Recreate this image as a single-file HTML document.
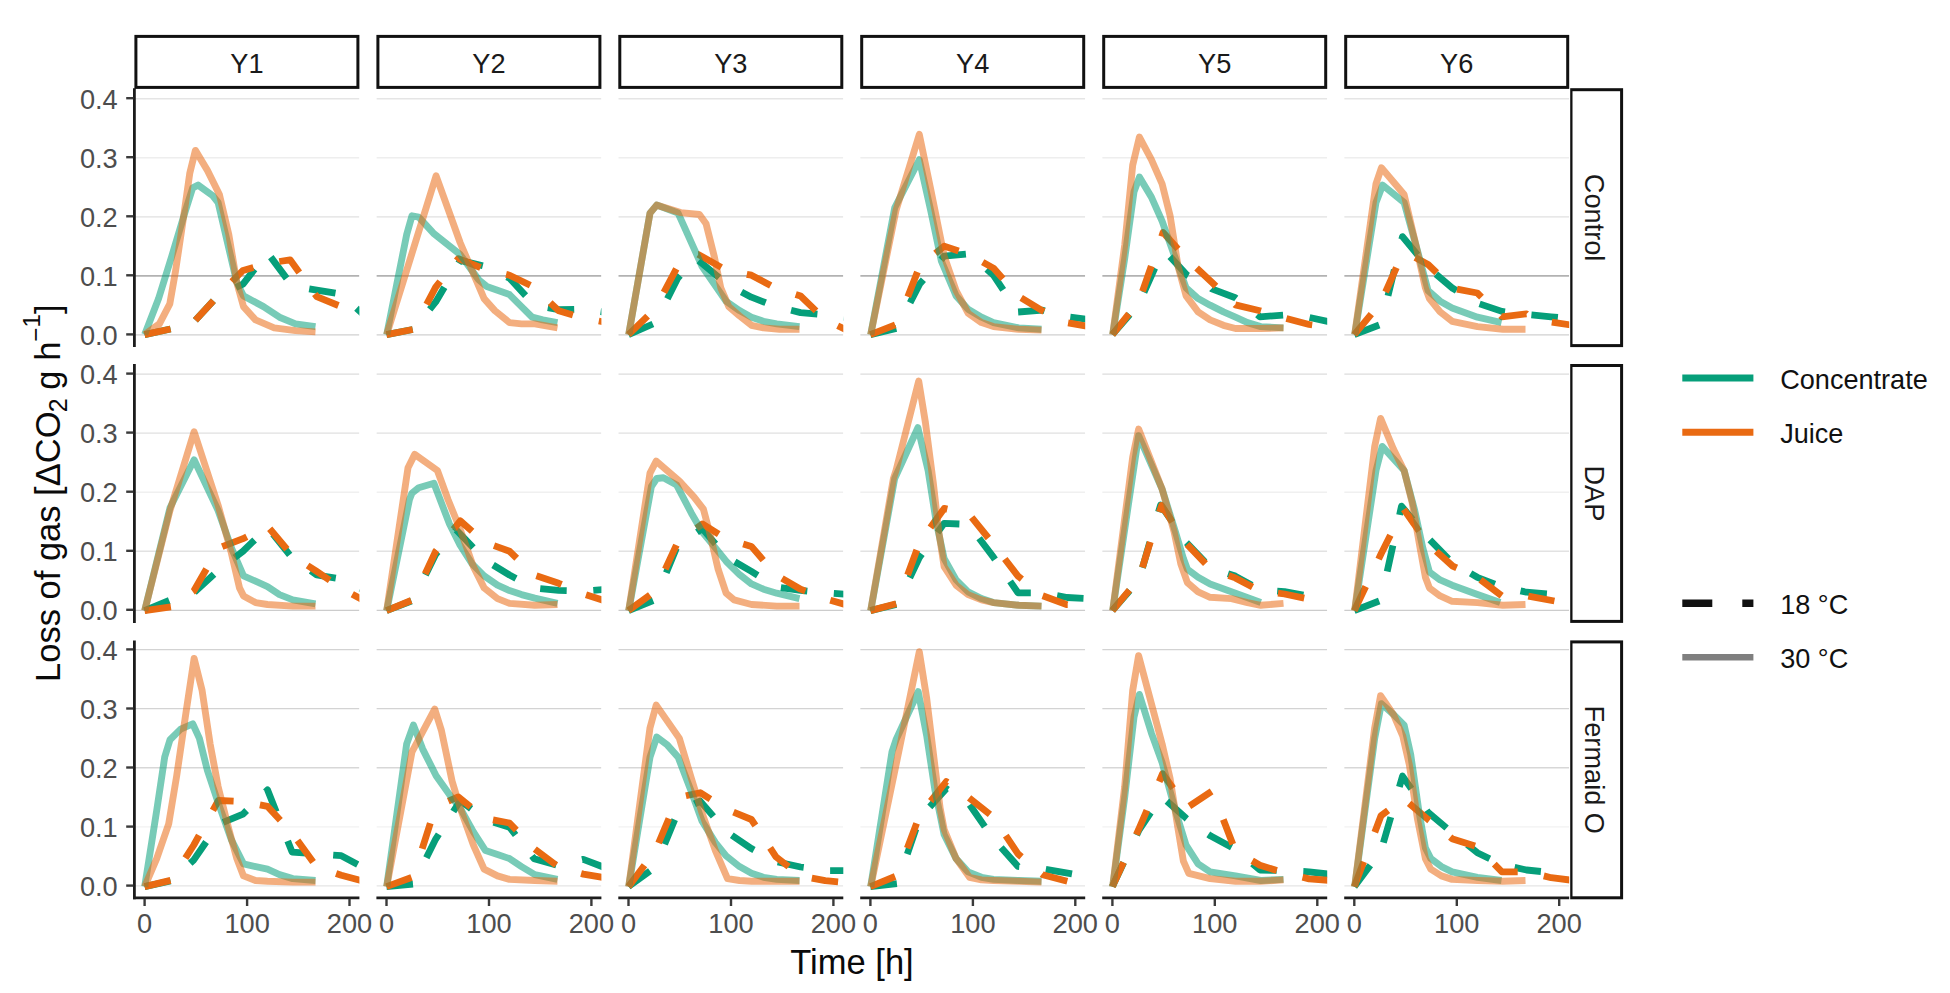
<!DOCTYPE html>
<html lang="en"><head><meta charset="utf-8"><title>Loss of gas over time by yeast strain and nutrient</title><style>html,body{margin:0;padding:0;background:#fff;}body{width:1950px;height:993px;overflow:hidden;}svg{display:block;}</style></head>
<body>
<svg width="1950" height="993" viewBox="0 0 1950 993" font-family='"Liberation Sans", sans-serif'>
<rect width="1950" height="993" fill="#fff"/>
<defs>
<clipPath id="c00"><rect x="134.4" y="88.2" width="225" height="258.9"/></clipPath>
<clipPath id="c01"><rect x="134.4" y="364" width="225" height="258.9"/></clipPath>
<clipPath id="c02"><rect x="134.4" y="640.4" width="225" height="258.9"/></clipPath>
<clipPath id="c10"><rect x="376.4" y="88.2" width="225" height="258.9"/></clipPath>
<clipPath id="c11"><rect x="376.4" y="364" width="225" height="258.9"/></clipPath>
<clipPath id="c12"><rect x="376.4" y="640.4" width="225" height="258.9"/></clipPath>
<clipPath id="c20"><rect x="618.3" y="88.2" width="225" height="258.9"/></clipPath>
<clipPath id="c21"><rect x="618.3" y="364" width="225" height="258.9"/></clipPath>
<clipPath id="c22"><rect x="618.3" y="640.4" width="225" height="258.9"/></clipPath>
<clipPath id="c30"><rect x="860.2" y="88.2" width="225" height="258.9"/></clipPath>
<clipPath id="c31"><rect x="860.2" y="364" width="225" height="258.9"/></clipPath>
<clipPath id="c32"><rect x="860.2" y="640.4" width="225" height="258.9"/></clipPath>
<clipPath id="c40"><rect x="1102.2" y="88.2" width="225" height="258.9"/></clipPath>
<clipPath id="c41"><rect x="1102.2" y="364" width="225" height="258.9"/></clipPath>
<clipPath id="c42"><rect x="1102.2" y="640.4" width="225" height="258.9"/></clipPath>
<clipPath id="c50"><rect x="1344.2" y="88.2" width="225" height="258.9"/></clipPath>
<clipPath id="c51"><rect x="1344.2" y="364" width="225" height="258.9"/></clipPath>
<clipPath id="c52"><rect x="1344.2" y="640.4" width="225" height="258.9"/></clipPath>
<clipPath id="cs"><rect x="1570.2" y="80" width="60" height="830"/></clipPath>
</defs>
<g clip-path="url(#c00)" fill="none"><line x1="134.4" x2="359.4" y1="334.9" y2="334.9" stroke="#d0d0d0" stroke-width="1.35"/><line x1="134.4" x2="359.4" y1="275.8" y2="275.8" stroke="#b2b2b2" stroke-width="1.7"/><line x1="134.4" x2="359.4" y1="216.8" y2="216.8" stroke="#e0e0e0" stroke-width="1.35"/><line x1="134.4" x2="359.4" y1="157.7" y2="157.7" stroke="#eeeeee" stroke-width="1.35"/><line x1="134.4" x2="359.4" y1="98.7" y2="98.7" stroke="#e5e5e5" stroke-width="1.35"/><path d="M144.6,334.6 L170.6,329 M195.4,320.3 L213.4,300.8 M235.9,287.3 L243,284.1 L254.6,269.2 M270.8,257.1 L286.6,278.4 M309.2,288.8 L316.7,290.1 L335.5,293.2 M356.5,308.2 L365.9,316.8" stroke="#069f7a" stroke-width="6.8" stroke-linejoin="round"/><path d="M144.6,334.6 L170.6,329 M195.4,320.3 L213.4,300.8 M231.9,281.6 L243,270.4 L253.4,267.4 M279.3,261.5 L290.1,259.8 L299.3,272.4 M314.8,294 L316.7,296.6 L338.4,305.5 M363.8,313.2 L365.9,313.8" stroke="#e96a12" stroke-width="6.8" stroke-linejoin="round"/><polyline points="144.7,334.6 158.6,298.6 171.9,255.8 183.9,215.8 192.7,187.8 198.1,185.1 212.8,195.8 218.1,202.5 236.8,282.5 243.5,295.9 263.5,306.6 279.5,317.2 295.5,323.9 315.5,326.6" stroke="#069f7a" stroke-opacity=".54" stroke-width="6.9" stroke-linejoin="round"/><polyline points="144.7,334.6 159.4,323.9 169.8,303.9 175.4,271.9 182.6,223.8 189.8,173.1 195.4,150.4 207.4,170.4 219.4,194.5 228.8,234.5 236.8,282.5 243.5,306.6 255.5,319.9 274.2,327.9 295.5,330.6 315.5,331.9" stroke="#e96a12" stroke-opacity=".54" stroke-width="6.9" stroke-linejoin="round"/></g>
<g clip-path="url(#c10)" fill="none"><line x1="376.4" x2="601.4" y1="334.9" y2="334.9" stroke="#d0d0d0" stroke-width="1.35"/><line x1="376.4" x2="601.4" y1="275.8" y2="275.8" stroke="#b2b2b2" stroke-width="1.7"/><line x1="376.4" x2="601.4" y1="216.8" y2="216.8" stroke="#e0e0e0" stroke-width="1.35"/><line x1="376.4" x2="601.4" y1="157.7" y2="157.7" stroke="#eeeeee" stroke-width="1.35"/><line x1="376.4" x2="601.4" y1="98.7" y2="98.7" stroke="#e5e5e5" stroke-width="1.35"/><path d="M386.5,334.6 L412.7,329.5 M429.7,309.3 L435.7,301.9 L444.4,287.2 M458.5,263.3 L460.3,260.4 L482.8,265.8 M506.9,276.9 L509.5,278.2 L525.6,295.6 M547.8,307.6 L558.7,309.7 L574.2,309.3 M600.6,311.6 L607.8,312.6" stroke="#069f7a" stroke-width="6.8" stroke-linejoin="round"/><path d="M386.5,334.6 L412.7,329.5 M426.6,304.3 L435.7,287.1 L440.1,281.5 M456.6,260.7 L458.3,258.6 L480.5,267.5 M506.1,274.4 L509.5,275.2 L530.3,285.3 M550.2,302.7 L558.7,310.8 L572.9,315 M598.8,321 L607.8,322.7" stroke="#e96a12" stroke-width="6.8" stroke-linejoin="round"/><polyline points="386.7,334.6 406.7,234.5 412,215.8 418.7,217.1 433.4,233.2 460.1,254.5 478.8,279.9 486.8,286.5 509.5,294.6 521.5,306.6 532.2,317.2 542.8,319.9 557.5,322.6" stroke="#069f7a" stroke-opacity=".54" stroke-width="6.9" stroke-linejoin="round"/><polyline points="386.7,334.6 436.1,175.8 460.1,242.5 484.1,298.6 494.8,310.6 509.5,322.6 521.5,323.9 534.8,323.9 557.5,327.9" stroke="#e96a12" stroke-opacity=".54" stroke-width="6.9" stroke-linejoin="round"/></g>
<g clip-path="url(#c20)" fill="none"><line x1="618.3" x2="843.3" y1="334.9" y2="334.9" stroke="#d0d0d0" stroke-width="1.35"/><line x1="618.3" x2="843.3" y1="275.8" y2="275.8" stroke="#b2b2b2" stroke-width="1.7"/><line x1="618.3" x2="843.3" y1="216.8" y2="216.8" stroke="#e0e0e0" stroke-width="1.35"/><line x1="618.3" x2="843.3" y1="157.7" y2="157.7" stroke="#eeeeee" stroke-width="1.35"/><line x1="618.3" x2="843.3" y1="98.7" y2="98.7" stroke="#e5e5e5" stroke-width="1.35"/><path d="M628.5,334.6 L652.9,324 M667.4,298.7 L677.7,278.2 L680.2,275.5 M698.7,260.7 L719.1,277.7 M741.5,291.9 L751.4,297.2 L765.7,302.7 M791.1,310.3 L800.6,312.6 L817.4,314.2 M843.8,317.2 L849.8,318" stroke="#069f7a" stroke-width="6.8" stroke-linejoin="round"/><path d="M628.5,334.6 L647.6,316.1 M663.9,292.4 L676.3,268.9 M698.1,254.4 L698.2,254.4 L721.3,267.4 M746.8,274.3 L751.4,275.2 L770.7,285.5 M795.7,294.4 L800.6,296 L816,310.9 M837.7,325.8 L849.8,331.6" stroke="#e96a12" stroke-width="6.8" stroke-linejoin="round"/><polyline points="628.7,334.6 650,213.1 656.7,205.1 678.1,213.1 702.1,266.5 726.1,301.2 739.5,310.6 751.5,317.2 763.5,321.3 776.8,323.9 799.5,326.6" stroke="#069f7a" stroke-opacity=".54" stroke-width="6.9" stroke-linejoin="round"/><polyline points="628.7,334.6 650,213.1 656.7,205.1 680.7,212.6 699.4,214.5 706.1,223.8 714.1,255.8 720.8,287.9 728.8,306.6 739.5,315.9 751.5,325.3 763.5,327.9 779.5,329.3 799.5,329.3" stroke="#e96a12" stroke-opacity=".54" stroke-width="6.9" stroke-linejoin="round"/></g>
<g clip-path="url(#c30)" fill="none"><line x1="860.2" x2="1085.2" y1="334.9" y2="334.9" stroke="#d0d0d0" stroke-width="1.35"/><line x1="860.2" x2="1085.2" y1="275.8" y2="275.8" stroke="#b2b2b2" stroke-width="1.7"/><line x1="860.2" x2="1085.2" y1="216.8" y2="216.8" stroke="#e0e0e0" stroke-width="1.35"/><line x1="860.2" x2="1085.2" y1="157.7" y2="157.7" stroke="#eeeeee" stroke-width="1.35"/><line x1="860.2" x2="1085.2" y1="98.7" y2="98.7" stroke="#e5e5e5" stroke-width="1.35"/><path d="M870.4,334.6 L896.3,328.4 M910.1,302.7 L919.6,284.1 L923.4,279.8 M941,259.8 L944.2,256.2 L965.9,254.1 M986.7,269.3 L993.4,275.2 L1003.2,289.9 M1018.1,312 L1042.6,310.2 L1044.6,310.8 M1070.3,317.2 L1091.7,319.8" stroke="#069f7a" stroke-width="6.8" stroke-linejoin="round"/><path d="M870.4,334.6 L895.2,324.9 M907.8,296.8 L917.4,272 M935.4,253.3 L944.2,246.1 L958.6,251 M982.7,262.1 L993.4,268.1 L1002.9,278.8 M1021.2,297.9 L1042.6,310.8 L1044,311.5 M1068.1,322.9 L1091.7,326.9" stroke="#e96a12" stroke-width="6.8" stroke-linejoin="round"/><polyline points="870.7,334.6 894.7,207.8 919.3,159.7 930.7,210.5 941.4,261.2 956.1,295.9 968.1,309.2 981.5,317.2 993.5,322.6 1018.8,327.9 1041.5,329.3" stroke="#069f7a" stroke-opacity=".54" stroke-width="6.9" stroke-linejoin="round"/><polyline points="870.7,334.6 896,210.5 919.3,134.4 930.7,189.1 944.1,255.8 956.1,290.6 968.1,313.2 981.5,322.6 993.5,326.6 1018.8,329.3 1041.5,330.1" stroke="#e96a12" stroke-opacity=".54" stroke-width="6.9" stroke-linejoin="round"/></g>
<g clip-path="url(#c40)" fill="none"><line x1="1102.2" x2="1327.2" y1="334.9" y2="334.9" stroke="#d0d0d0" stroke-width="1.35"/><line x1="1102.2" x2="1327.2" y1="275.8" y2="275.8" stroke="#b2b2b2" stroke-width="1.7"/><line x1="1102.2" x2="1327.2" y1="216.8" y2="216.8" stroke="#e0e0e0" stroke-width="1.35"/><line x1="1102.2" x2="1327.2" y1="157.7" y2="157.7" stroke="#eeeeee" stroke-width="1.35"/><line x1="1102.2" x2="1327.2" y1="98.7" y2="98.7" stroke="#e5e5e5" stroke-width="1.35"/><path d="M1112.4,334.6 L1129.8,314.5 M1144,292.4 L1154.8,268 M1170,256.6 L1187.2,275.2 L1188.3,275.8 M1211.6,288.7 L1211.8,288.9 L1235.3,297.8 L1236.2,298.5 M1257.3,314.7 L1259.9,316.8 L1283.1,315.1 M1309.6,317.5 L1333.7,322.7" stroke="#069f7a" stroke-width="6.8" stroke-linejoin="round"/><path d="M1112.4,334.6 L1128.9,313.8 M1142.5,291.3 L1151.3,266.2 M1161.7,236.5 L1163.1,232.4 L1178,249 M1196.6,268 L1211.8,282.3 L1215.9,286.3 M1235.1,304.7 L1235.3,304.9 L1259.9,310.8 L1260.9,311.1 M1286.4,318.5 L1309.1,324.5 L1312.2,324.9" stroke="#e96a12" stroke-width="6.8" stroke-linejoin="round"/><polyline points="1112.7,334.6 1124.7,258.5 1134,191.8 1139.4,177.1 1151.4,197.1 1162.1,221.1 1175.4,258.5 1186.1,287.9 1198.1,298.6 1210.1,305.2 1223.5,311.9 1235.5,317.2 1247.5,322.6 1260.8,326.6 1283.5,327.9" stroke="#069f7a" stroke-opacity=".54" stroke-width="6.9" stroke-linejoin="round"/><polyline points="1112.7,334.6 1124.7,245.2 1132.7,165.1 1139.4,137.1 1151.4,159.7 1162.1,183.8 1170.1,215.8 1178.1,266.5 1186.1,295.9 1198.1,311.9 1210.1,319.9 1223.5,325.3 1235.5,328.5 1260.8,328.5 1283.5,327.9" stroke="#e96a12" stroke-opacity=".54" stroke-width="6.9" stroke-linejoin="round"/></g>
<g clip-path="url(#c50)" fill="none"><line x1="1344.2" x2="1569.2" y1="334.9" y2="334.9" stroke="#d0d0d0" stroke-width="1.35"/><line x1="1344.2" x2="1569.2" y1="275.8" y2="275.8" stroke="#b2b2b2" stroke-width="1.7"/><line x1="1344.2" x2="1569.2" y1="216.8" y2="216.8" stroke="#e0e0e0" stroke-width="1.35"/><line x1="1344.2" x2="1569.2" y1="157.7" y2="157.7" stroke="#eeeeee" stroke-width="1.35"/><line x1="1344.2" x2="1569.2" y1="98.7" y2="98.7" stroke="#e5e5e5" stroke-width="1.35"/><path d="M1354.3,334.6 L1379.2,325 M1388,295.7 L1394.3,269.9 M1401.8,239.4 L1402.5,236.6 L1417.6,254.8 M1435.9,274.1 L1452.7,288.3 L1456.6,290.6 M1479.6,303.9 L1501.9,311.4 L1505,311.8 M1531.4,314.9 L1551.1,316.8 L1557.9,317.4" stroke="#069f7a" stroke-width="6.8" stroke-linejoin="round"/><path d="M1354.3,334.6 L1371.3,314.1 M1385.6,292 L1396.4,267.6 M1415.2,257.6 L1428.1,264.5 L1436.7,272.8 M1457,289.1 L1477.3,293 L1481.5,297.1 M1500.7,315.6 L1501.9,316.8 L1526.5,313.8 L1526.6,313.9 M1551.8,322.2 L1575.6,325.7" stroke="#e96a12" stroke-width="6.8" stroke-linejoin="round"/><polyline points="1354.7,334.6 1376,202.5 1382.7,185.1 1404.1,202.5 1417.4,250.5 1428.1,290.6 1440.1,301.2 1452.1,307.9 1477.5,317.2 1489.5,319.9 1501.5,322.6" stroke="#069f7a" stroke-opacity=".54" stroke-width="6.9" stroke-linejoin="round"/><polyline points="1354.7,334.6 1376,183.8 1381.4,167.8 1404.1,194.5 1414.7,239.8 1425.4,287.9 1429.4,298.6 1440.1,311.9 1452.1,321.3 1477.5,326.6 1502.8,329.3 1525.5,329.3" stroke="#e96a12" stroke-opacity=".54" stroke-width="6.9" stroke-linejoin="round"/></g>
<g clip-path="url(#c01)" fill="none"><line x1="134.4" x2="359.4" y1="610.3" y2="610.3" stroke="#cccccc" stroke-width="1.35"/><line x1="134.4" x2="359.4" y1="551.2" y2="551.2" stroke="#e2e2e2" stroke-width="1.35"/><line x1="134.4" x2="359.4" y1="492.2" y2="492.2" stroke="#f0f0f0" stroke-width="1.35"/><line x1="134.4" x2="359.4" y1="433.1" y2="433.1" stroke="#e0e0e0" stroke-width="1.35"/><line x1="134.4" x2="359.4" y1="374.1" y2="374.1" stroke="#dcdcdc" stroke-width="1.35"/><path d="M144.6,610.6 L169.2,600.5 M194.4,592.2 L214,574.2 M234.7,557.6 L243,551.2 L254.6,540 M273,534.1 L289.7,554.8 M310.8,570.8 L316.7,575 L335.8,578.2 M360.2,588.3 L365.9,591" stroke="#069f7a" stroke-width="6.8" stroke-linejoin="round"/><path d="M144.6,610.6 L170.9,606.8 M192.8,591.7 L193.8,591 L206.4,569 M222.2,546.7 L243,538.7 L246.8,536.8 M269.7,528.8 L286.9,549.2 M307.6,565.5 L316.7,571.4 L329.7,580.2 M352.3,594.2 L365.9,601.7" stroke="#e96a12" stroke-width="6.8" stroke-linejoin="round"/><polyline points="144.7,610.6 170,507.8 194.1,459.8 218.1,510.5 231.4,547.9 243.5,575.9 255.5,581.2 267.5,586.6 279.5,594.6 292.8,599.9 315.5,603.9" stroke="#069f7a" stroke-opacity=".54" stroke-width="6.9" stroke-linejoin="round"/><polyline points="144.7,610.6 170,510.5 194.1,431.7 218.1,505.2 231.4,553.2 239.5,587.9 243.5,595.9 255.5,602.6 267.5,604.5 292.8,606.1 315.5,606.1" stroke="#e96a12" stroke-opacity=".54" stroke-width="6.9" stroke-linejoin="round"/></g>
<g clip-path="url(#c11)" fill="none"><line x1="376.4" x2="601.4" y1="610.3" y2="610.3" stroke="#cccccc" stroke-width="1.35"/><line x1="376.4" x2="601.4" y1="551.2" y2="551.2" stroke="#e2e2e2" stroke-width="1.35"/><line x1="376.4" x2="601.4" y1="492.2" y2="492.2" stroke="#f0f0f0" stroke-width="1.35"/><line x1="376.4" x2="601.4" y1="433.1" y2="433.1" stroke="#e0e0e0" stroke-width="1.35"/><line x1="376.4" x2="601.4" y1="374.1" y2="374.1" stroke="#dcdcdc" stroke-width="1.35"/><path d="M386.5,610.6 L411.4,601 M425.5,575.1 L435.7,554.2 L437.8,551.7 M455,531.3 L456.2,529.8 L473.2,547.7 M493.1,565 L509.5,575 L516,578.4 M540.2,588.6 L558.7,590.4 L566.7,590.6 M593.3,590.3 L607.8,589.2" stroke="#069f7a" stroke-width="6.8" stroke-linejoin="round"/><path d="M386.5,610.6 L411.2,600.5 M425.1,574 L435.7,551.2 L436.6,550.1 M453.4,529.4 L460.3,520.9 L472.1,531.2 M494,545.6 L509.5,551.2 L516.7,558.2 M536.4,575.8 L558.7,583.3 L561.5,584.5 M586,594.8 L607.8,601.7" stroke="#e96a12" stroke-width="6.8" stroke-linejoin="round"/><polyline points="386.7,610.6 409.4,499.8 412,493.1 418.7,487.8 433.9,483.3 449.4,523.8 460.1,545.2 472.1,563.9 484.1,575.9 497.5,585.2 509.5,590.6 521.5,594.6 534.8,598.1 557.5,603.4" stroke="#069f7a" stroke-opacity=".54" stroke-width="6.9" stroke-linejoin="round"/><polyline points="386.7,610.6 408,467.8 414.7,454.4 437.4,470.5 448.1,499.8 460.1,529.2 473.4,566.6 484.1,587.9 497.5,598.6 509.5,603.4 534.8,605.3 557.5,604.5" stroke="#e96a12" stroke-opacity=".54" stroke-width="6.9" stroke-linejoin="round"/></g>
<g clip-path="url(#c21)" fill="none"><line x1="618.3" x2="843.3" y1="610.3" y2="610.3" stroke="#cccccc" stroke-width="1.35"/><line x1="618.3" x2="843.3" y1="551.2" y2="551.2" stroke="#e2e2e2" stroke-width="1.35"/><line x1="618.3" x2="843.3" y1="492.2" y2="492.2" stroke="#f0f0f0" stroke-width="1.35"/><line x1="618.3" x2="843.3" y1="433.1" y2="433.1" stroke="#e0e0e0" stroke-width="1.35"/><line x1="618.3" x2="843.3" y1="374.1" y2="374.1" stroke="#dcdcdc" stroke-width="1.35"/><path d="M628.5,610.6 L653.1,600.5 M666.3,572.8 L676.4,548.3 M697,532.2 L702.3,528.6 L715.5,544 M734.8,561.8 L751.4,571.4 L757.7,575.3 M780.9,587.6 L800.6,590.4 L807.3,591.1 M833.8,593.4 L849.8,594.6" stroke="#069f7a" stroke-width="6.8" stroke-linejoin="round"/><path d="M628.5,610.6 L650,595 M665.3,569.2 L676.4,545.1 M696.5,528.2 L702.3,523.9 L718.7,534.2 M743.2,544 L751.4,546.4 L763.2,560.1 M782,578.4 L800.6,589.2 L805.4,591.1 M830.3,600.2 L849.8,605.8" stroke="#e96a12" stroke-width="6.8" stroke-linejoin="round"/><polyline points="628.7,610.6 651.4,486.5 656.7,478.5 663.4,477.7 676.7,485.1 691.4,513.2 702.1,531.8 715.4,547.9 726.1,561.2 739.5,574.6 751.5,583.9 763.5,589.2 776.8,593.2 799.5,598.6" stroke="#069f7a" stroke-opacity=".54" stroke-width="6.9" stroke-linejoin="round"/><polyline points="628.7,610.6 650,473.1 656.2,461.1 679.4,481.1 694.1,497.1 703.4,509.2 710.1,534.5 718.1,569.2 726.1,593.2 734.1,599.9 751.5,604.5 776.8,606.1 799.5,606.1" stroke="#e96a12" stroke-opacity=".54" stroke-width="6.9" stroke-linejoin="round"/></g>
<g clip-path="url(#c31)" fill="none"><line x1="860.2" x2="1085.2" y1="610.3" y2="610.3" stroke="#cccccc" stroke-width="1.35"/><line x1="860.2" x2="1085.2" y1="551.2" y2="551.2" stroke="#e2e2e2" stroke-width="1.35"/><line x1="860.2" x2="1085.2" y1="492.2" y2="492.2" stroke="#f0f0f0" stroke-width="1.35"/><line x1="860.2" x2="1085.2" y1="433.1" y2="433.1" stroke="#e0e0e0" stroke-width="1.35"/><line x1="860.2" x2="1085.2" y1="374.1" y2="374.1" stroke="#dcdcdc" stroke-width="1.35"/><path d="M870.4,610.6 L896.3,604.4 M909.8,577.7 L919.6,557.1 L921.9,554 M937.5,532.5 L944.2,523.3 L959.4,524 M979.1,538.2 L993.4,557.1 L995,559.5 M1010.1,581.4 L1018,592.8 L1030.8,592.8 M1057.1,595.6 L1067.2,597.5 L1083.5,598.3" stroke="#069f7a" stroke-width="6.8" stroke-linejoin="round"/><path d="M870.4,610.6 L896.2,603.8 M907.6,575 L916.8,550 M930.4,527.4 L944.2,508.4 L947.3,509.1 M971.7,517.3 L988.4,538 M1004.8,559 L1018,576.1 L1021.8,579.2 M1042.7,595.8 L1067.2,604.7 L1067.7,604.7" stroke="#e96a12" stroke-width="6.8" stroke-linejoin="round"/><polyline points="870.7,610.6 894.7,478.5 917.9,427.7 928.1,470.5 936.1,521.2 944.1,558.5 956.1,579.9 968.1,591.9 981.5,598.6 993.5,602.6 1018.8,605.3 1041.5,606.1" stroke="#069f7a" stroke-opacity=".54" stroke-width="6.9" stroke-linejoin="round"/><polyline points="870.7,610.6 893.4,478.5 896,470.5 918.7,381 925.4,422.4 933.4,483.8 938.8,531.8 944.1,566.6 956.1,585.2 968.1,594.6 981.5,599.9 993.5,602.6 1018.8,605.3 1041.5,606.1" stroke="#e96a12" stroke-opacity=".54" stroke-width="6.9" stroke-linejoin="round"/></g>
<g clip-path="url(#c41)" fill="none"><line x1="1102.2" x2="1327.2" y1="610.3" y2="610.3" stroke="#cccccc" stroke-width="1.35"/><line x1="1102.2" x2="1327.2" y1="551.2" y2="551.2" stroke="#e2e2e2" stroke-width="1.35"/><line x1="1102.2" x2="1327.2" y1="492.2" y2="492.2" stroke="#f0f0f0" stroke-width="1.35"/><line x1="1102.2" x2="1327.2" y1="433.1" y2="433.1" stroke="#e0e0e0" stroke-width="1.35"/><line x1="1102.2" x2="1327.2" y1="374.1" y2="374.1" stroke="#dcdcdc" stroke-width="1.35"/><path d="M1112.4,610.6 L1129.8,590.5 M1142.5,567.8 L1149.8,542.2 M1158.5,512 L1160.6,504.9 L1171.4,520.7 M1186.5,542.6 L1204.9,561.8 M1228,573.7 L1235.3,576.1 L1251.8,585.3 M1277.2,591.1 L1284.5,591.6 L1303.4,595.1" stroke="#069f7a" stroke-width="6.8" stroke-linejoin="round"/><path d="M1112.4,610.6 L1129.4,590.1 M1142.4,567.5 L1150.3,542.1 M1159.5,512.1 L1161.6,505.5 L1172.3,522 M1187.1,544.4 L1205.5,563.6 M1228.6,575.5 L1235.3,577.9 L1252.5,587.1 M1278,593.2 L1284.5,594 L1304.2,598.1" stroke="#e96a12" stroke-width="6.8" stroke-linejoin="round"/><polyline points="1112.7,610.6 1138.6,435.7 1162.1,489.1 1175.4,531.8 1183.4,558.5 1187.4,569.2 1198.1,577.2 1210.1,583.9 1235.5,593.2 1260.8,602.6" stroke="#069f7a" stroke-opacity=".54" stroke-width="6.9" stroke-linejoin="round"/><polyline points="1112.7,610.6 1132.7,457.1 1138.6,429.1 1162.1,489.1 1174.1,531.8 1180.8,563.9 1187.4,582.6 1198.1,591.9 1210.1,597.3 1231.5,598.6 1247.5,602.6 1260.8,605.3 1283.5,603.4" stroke="#e96a12" stroke-opacity=".54" stroke-width="6.9" stroke-linejoin="round"/></g>
<g clip-path="url(#c51)" fill="none"><line x1="1344.2" x2="1569.2" y1="610.3" y2="610.3" stroke="#cccccc" stroke-width="1.35"/><line x1="1344.2" x2="1569.2" y1="551.2" y2="551.2" stroke="#e2e2e2" stroke-width="1.35"/><line x1="1344.2" x2="1569.2" y1="492.2" y2="492.2" stroke="#f0f0f0" stroke-width="1.35"/><line x1="1344.2" x2="1569.2" y1="433.1" y2="433.1" stroke="#e0e0e0" stroke-width="1.35"/><line x1="1344.2" x2="1569.2" y1="374.1" y2="374.1" stroke="#dcdcdc" stroke-width="1.35"/><path d="M1354.3,610.6 L1379.2,601 M1387.2,571.5 L1392.9,545.6 M1399.6,514.9 L1401.5,506.1 L1412.7,519.6 M1429.9,539.9 L1448.5,558.8 M1470.6,573.4 L1477.3,577.3 L1494.9,584.1 M1520.5,590.9 L1526.5,592.2 L1546.9,593.8" stroke="#069f7a" stroke-width="6.8" stroke-linejoin="round"/><path d="M1354.3,610.6 L1365.7,586.5 M1378.6,559.1 L1381,554 L1390.4,535.2 M1403.8,509.4 L1419,531.1 M1436.2,551.3 L1452.7,566.1 L1456.7,567.9 M1480.5,579.7 L1501.7,595.7 M1528.3,596.1 L1554.4,601" stroke="#e96a12" stroke-width="6.8" stroke-linejoin="round"/><polyline points="1354.7,610.6 1376,470.5 1382.2,446.4 1404.1,470.5 1414.7,510.5 1422.8,547.9 1429.4,571.9 1440.1,579.9 1452.1,585.2 1477.5,594.6 1500.2,602.6" stroke="#069f7a" stroke-opacity=".54" stroke-width="6.9" stroke-linejoin="round"/><polyline points="1354.7,610.6 1374.7,446.4 1380.6,418.4 1393.4,449.1 1404.1,470.5 1412.1,502.5 1420.1,547.9 1425.4,577.2 1429.4,587.9 1440.1,595.9 1452.1,601.3 1477.5,602.6 1502.8,605.3 1525.5,604.5" stroke="#e96a12" stroke-opacity=".54" stroke-width="6.9" stroke-linejoin="round"/></g>
<g clip-path="url(#c02)" fill="none"><line x1="134.4" x2="359.4" y1="885.8" y2="885.8" stroke="#e5e5e5" stroke-width="1.35"/><line x1="134.4" x2="359.4" y1="826.8" y2="826.8" stroke="#f2f2f2" stroke-width="1.35"/><line x1="134.4" x2="359.4" y1="767.7" y2="767.7" stroke="#d7d7d7" stroke-width="1.35"/><line x1="134.4" x2="359.4" y1="708.6" y2="708.6" stroke="#d3d3d3" stroke-width="1.35"/><line x1="134.4" x2="359.4" y1="649.6" y2="649.6" stroke="#d3d3d3" stroke-width="1.35"/><path d="M144.6,886.6 L170.6,881 M190.2,863.2 L193.8,859.9 L206.1,842 M223.1,822.3 L243,814.1 L246.6,810.5 M265.5,791.8 L267.5,789.8 L276.2,811.8 M287.7,841 L292.1,852.1 L306.7,853.2 M333.2,855.1 L341.3,855.7 L357.7,864.4" stroke="#069f7a" stroke-width="6.8" stroke-linejoin="round"/><path d="M144.6,886.6 L170.5,880.4 M185.4,858.2 L193.8,845 L199.1,835.4 M212.9,810.4 L218.4,800.5 L233.6,801.2 M259.9,804.9 L267.5,806.4 L280.3,820.2 M297.5,840.5 L313.1,862 M336.1,873.5 L341.3,875.3 L361.7,880.7" stroke="#e96a12" stroke-width="6.8" stroke-linejoin="round"/><polyline points="144.7,886.6 156.7,810.5 164.7,757.1 170,739.8 180.7,729.1 192.7,723.8 199.4,738.4 207.4,770.5 218.1,802.5 231.4,839.9 243.5,863.9 267.5,869.2 279.5,874.6 292.8,878.6 315.5,880.5" stroke="#069f7a" stroke-opacity=".54" stroke-width="6.9" stroke-linejoin="round"/><polyline points="144.7,886.6 156.7,858.6 168.7,823.9 176.7,775.8 186.1,711.7 194.1,658.4 202.1,690.4 210.1,743.8 218.1,786.5 228.8,829.2 236.8,858.6 243.5,875.9 255.5,880.5 267.5,881.3 292.8,882.1 315.5,882.1" stroke="#e96a12" stroke-opacity=".54" stroke-width="6.9" stroke-linejoin="round"/></g>
<g clip-path="url(#c12)" fill="none"><line x1="376.4" x2="601.4" y1="885.8" y2="885.8" stroke="#e5e5e5" stroke-width="1.35"/><line x1="376.4" x2="601.4" y1="826.8" y2="826.8" stroke="#f2f2f2" stroke-width="1.35"/><line x1="376.4" x2="601.4" y1="767.7" y2="767.7" stroke="#d7d7d7" stroke-width="1.35"/><line x1="376.4" x2="601.4" y1="708.6" y2="708.6" stroke="#d3d3d3" stroke-width="1.35"/><line x1="376.4" x2="601.4" y1="649.6" y2="649.6" stroke="#d3d3d3" stroke-width="1.35"/><path d="M386.5,886.6 L413,884.2 M426.4,857.7 L435.7,839.1 L438.8,834.2 M453.3,811.5 L460.3,800.5 L471.1,808.8 M493.6,822.2 L509.5,827.2 L515.6,835 M532,856 L534.1,858.7 L556.3,865.1 M582,859.6 L583.3,859.3 L606.9,868.4" stroke="#069f7a" stroke-width="6.8" stroke-linejoin="round"/><path d="M386.5,886.6 L411.5,877.5 M422.2,848.7 L430.3,823.3 M448.3,801.1 L458.3,796.9 L470.6,806.8 M493,819.8 L509.5,823 L516.3,830.1 M534.8,849.1 L556.1,865.1 M581.1,873.5 L583.3,874.1 L607.3,878.2" stroke="#e96a12" stroke-width="6.8" stroke-linejoin="round"/><polyline points="386.7,886.6 406.7,743.8 413.4,725.1 422.7,749.1 436.1,775.8 449.4,794.5 460.1,807.8 473.4,831.9 485.5,850.6 497.5,854.6 509.5,858.6 521.5,866.6 534.8,874.6 557.5,879.4" stroke="#069f7a" stroke-opacity=".54" stroke-width="6.9" stroke-linejoin="round"/><polyline points="386.7,886.6 412,751.8 434.7,709.1 441.4,730.4 452.1,781.2 460.1,807.8 473.4,845.2 484.1,869.2 497.5,875.9 509.5,879.4 534.8,880.5 557.5,881.3" stroke="#e96a12" stroke-opacity=".54" stroke-width="6.9" stroke-linejoin="round"/></g>
<g clip-path="url(#c22)" fill="none"><line x1="618.3" x2="843.3" y1="885.8" y2="885.8" stroke="#e5e5e5" stroke-width="1.35"/><line x1="618.3" x2="843.3" y1="826.8" y2="826.8" stroke="#f2f2f2" stroke-width="1.35"/><line x1="618.3" x2="843.3" y1="767.7" y2="767.7" stroke="#d7d7d7" stroke-width="1.35"/><line x1="618.3" x2="843.3" y1="708.6" y2="708.6" stroke="#d3d3d3" stroke-width="1.35"/><line x1="618.3" x2="843.3" y1="649.6" y2="649.6" stroke="#d3d3d3" stroke-width="1.35"/><path d="M628.5,886.6 L650,871 M664.6,844.2 L674.7,819.6 M694.5,803.9 L700.2,801.1 L713.4,816.4 M731.8,835.3 L751.4,848.6 L754,850 M777.7,862 L800.6,867 L803.7,867.4 M830.1,870.6 L849.8,870.6" stroke="#069f7a" stroke-width="6.8" stroke-linejoin="round"/><path d="M628.5,886.6 L644.5,865.3 M658.6,843 L668.9,818.5 M685.9,795.8 L700.2,792.7 L710.4,799.1 M733.5,812.1 L751.4,819.5 L755.4,825.5 M770.1,847.9 L776,856.9 L788.6,866.6 M811.8,878.1 L825.2,880.7 L838.1,881.9" stroke="#e96a12" stroke-width="6.8" stroke-linejoin="round"/><polyline points="628.7,886.6 650,757.1 656.7,737.1 667.4,745.1 678.1,757.1 691.4,791.8 702.1,821.2 715.4,842.6 726.1,855.9 739.5,866.6 751.5,873.3 763.5,877.3 776.8,879.4 799.5,880.5" stroke="#069f7a" stroke-opacity=".54" stroke-width="6.9" stroke-linejoin="round"/><polyline points="628.7,886.6 650,727.8 656.2,705.1 679.4,738.4 691.4,778.5 702.1,813.2 715.4,850.6 727.5,878.6 739.5,880.5 751.5,881.3 776.8,881.3 799.5,881.3" stroke="#e96a12" stroke-opacity=".54" stroke-width="6.9" stroke-linejoin="round"/></g>
<g clip-path="url(#c32)" fill="none"><line x1="860.2" x2="1085.2" y1="885.8" y2="885.8" stroke="#e5e5e5" stroke-width="1.35"/><line x1="860.2" x2="1085.2" y1="826.8" y2="826.8" stroke="#f2f2f2" stroke-width="1.35"/><line x1="860.2" x2="1085.2" y1="767.7" y2="767.7" stroke="#d7d7d7" stroke-width="1.35"/><line x1="860.2" x2="1085.2" y1="708.6" y2="708.6" stroke="#d3d3d3" stroke-width="1.35"/><line x1="860.2" x2="1085.2" y1="649.6" y2="649.6" stroke="#d3d3d3" stroke-width="1.35"/><path d="M870.4,886.6 L896.9,883.7 M907.3,854.1 L915.9,829 M929.8,806.9 L946.3,788.6 L947.9,789.7 M969.7,804.8 L984.8,826.6 M1001.1,847.6 L1018,866.4 L1019.3,866.5 M1045.8,869.3 L1072,873.9" stroke="#069f7a" stroke-width="6.8" stroke-linejoin="round"/><path d="M870.4,886.6 L895.1,876.5 M907.3,848.3 L916.6,823.4 M930.7,801.2 L946.3,781.5 L947.5,782.3 M969.1,797.8 L989.9,814.4 M1005.8,835.7 L1018,853.9 L1021.5,856.9 M1041.8,874.1 L1042.6,874.7 L1067.3,881.3" stroke="#e96a12" stroke-width="6.8" stroke-linejoin="round"/><polyline points="870.7,886.6 892,751.8 896,739.8 918.2,691.7 926.7,735.8 934.8,789.2 944.1,834.5 956.1,858.6 968.1,871.9 981.5,877.3 993.5,879.4 1018.8,880.5 1041.5,881.3" stroke="#069f7a" stroke-opacity=".54" stroke-width="6.9" stroke-linejoin="round"/><polyline points="870.7,886.6 896,765.1 919.3,651.7 926.7,698.4 934.8,765.1 940.1,807.8 944.1,829.2 956.1,858.6 969.5,877.3 981.5,879.9 993.5,880.5 1018.8,881.3 1041.5,882.1" stroke="#e96a12" stroke-opacity=".54" stroke-width="6.9" stroke-linejoin="round"/></g>
<g clip-path="url(#c42)" fill="none"><line x1="1102.2" x2="1327.2" y1="885.8" y2="885.8" stroke="#e5e5e5" stroke-width="1.35"/><line x1="1102.2" x2="1327.2" y1="826.8" y2="826.8" stroke="#f2f2f2" stroke-width="1.35"/><line x1="1102.2" x2="1327.2" y1="767.7" y2="767.7" stroke="#d7d7d7" stroke-width="1.35"/><line x1="1102.2" x2="1327.2" y1="708.6" y2="708.6" stroke="#d3d3d3" stroke-width="1.35"/><line x1="1102.2" x2="1327.2" y1="649.6" y2="649.6" stroke="#d3d3d3" stroke-width="1.35"/><path d="M1112.4,886.6 L1123.7,862.5 M1136.7,835.1 L1139,830 L1150.7,812.5 M1166.9,801.1 L1186.2,818.3 L1186.8,818.8 M1208.3,834.4 L1210.8,836.1 L1231.6,847.2 M1252.4,863.6 L1259.9,870 L1276.7,870.4 M1303.3,871.5 L1309.1,871.8 L1329.7,874.2" stroke="#069f7a" stroke-width="6.8" stroke-linejoin="round"/><path d="M1112.4,886.6 L1123.5,862.4 M1136.3,834.7 L1139,828.7 L1146.9,810.3 M1159.2,781.7 L1162.6,773.7 L1173.1,788.2 M1189.4,806.1 L1211.6,791.4 M1223.3,819.5 L1232.8,844.3 M1252.2,860.7 L1259.9,865.2 L1276.8,870.5 M1302.5,877.3 L1309.1,878.9 L1328.9,880.3" stroke="#e96a12" stroke-width="6.8" stroke-linejoin="round"/><polyline points="1112.7,886.6 1124.7,797.2 1134,717.1 1139.4,694.4 1151.4,733.1 1162.1,762.5 1175.4,810.5 1186.1,845.2 1198.1,863.9 1210.1,871.9 1235.5,875.9 1260.8,880.5 1283.5,879.4" stroke="#069f7a" stroke-opacity=".54" stroke-width="6.9" stroke-linejoin="round"/><polyline points="1112.7,886.6 1124.7,786.5 1132.7,690.4 1138.6,655.7 1151.4,703.7 1162.1,743.8 1170.1,778.5 1178.1,829.2 1183.4,861.2 1188.8,873.3 1210.1,878.6 1235.5,881.3 1260.8,881.3 1283.5,879.9" stroke="#e96a12" stroke-opacity=".54" stroke-width="6.9" stroke-linejoin="round"/></g>
<g clip-path="url(#c52)" fill="none"><line x1="1344.2" x2="1569.2" y1="885.8" y2="885.8" stroke="#e5e5e5" stroke-width="1.35"/><line x1="1344.2" x2="1569.2" y1="826.8" y2="826.8" stroke="#f2f2f2" stroke-width="1.35"/><line x1="1344.2" x2="1569.2" y1="767.7" y2="767.7" stroke="#d7d7d7" stroke-width="1.35"/><line x1="1344.2" x2="1569.2" y1="708.6" y2="708.6" stroke="#d3d3d3" stroke-width="1.35"/><line x1="1344.2" x2="1569.2" y1="649.6" y2="649.6" stroke="#d3d3d3" stroke-width="1.35"/><path d="M1354.3,886.6 L1370.3,865.3 M1383.4,842.6 L1390.8,817.1 M1399.4,786.9 L1402.5,776.1 L1411.4,788.7 M1426.7,810.4 L1428.1,812.4 L1446.6,828 M1467.3,844.7 L1477.3,852.7 L1489.7,858.7 M1514.6,867.4 L1526.5,870 L1540.9,871.5" stroke="#069f7a" stroke-width="6.8" stroke-linejoin="round"/><path d="M1354.3,886.6 L1363.7,861.7 M1374.8,832.3 L1381,815.8 L1388.1,810.4 M1409.1,803.4 L1428.1,819.5 L1429.4,820.5 M1450.2,837.1 L1452.7,839.1 L1475,846.1 M1494.3,864.1 L1501.9,871.8 L1517.7,871.8 M1543.8,875.9 L1551.1,877.7 L1570,880" stroke="#e96a12" stroke-width="6.8" stroke-linejoin="round"/><polyline points="1354.7,886.6 1374.7,738.4 1381.4,703.7 1393.4,714.4 1404.1,725.1 1410.7,754.5 1418.8,810.5 1425.4,847.9 1430.8,858.6 1441.4,866.6 1452.1,871.9 1477.5,877.3 1501.5,880.5" stroke="#069f7a" stroke-opacity=".54" stroke-width="6.9" stroke-linejoin="round"/><polyline points="1354.7,886.6 1374.7,727.8 1380.6,695.7 1393.4,714.4 1402.7,735.8 1409.4,765.1 1417.4,818.5 1425.4,858.6 1430.8,869.2 1441.4,875.9 1452.1,879.4 1477.5,880.5 1502.8,881.3 1525.5,880.5" stroke="#e96a12" stroke-opacity=".54" stroke-width="6.9" stroke-linejoin="round"/></g>
<g fill="none"><line x1="134.4" x2="134.4" y1="88.2" y2="347.1" stroke="#1c1c1c" stroke-width="2.8"/><line x1="126.2" x2="133.4" y1="334.4" y2="334.4" stroke="#3a3a3a" stroke-width="2.4"/><line x1="126.2" x2="133.4" y1="275.3" y2="275.3" stroke="#3a3a3a" stroke-width="2.4"/><line x1="126.2" x2="133.4" y1="216.3" y2="216.3" stroke="#3a3a3a" stroke-width="2.4"/><line x1="126.2" x2="133.4" y1="157.2" y2="157.2" stroke="#3a3a3a" stroke-width="2.4"/><line x1="126.2" x2="133.4" y1="98.2" y2="98.2" stroke="#3a3a3a" stroke-width="2.4"/><line x1="134.4" x2="134.4" y1="364" y2="622.9" stroke="#1c1c1c" stroke-width="2.8"/><line x1="126.2" x2="133.4" y1="609.8" y2="609.8" stroke="#3a3a3a" stroke-width="2.4"/><line x1="126.2" x2="133.4" y1="550.8" y2="550.8" stroke="#3a3a3a" stroke-width="2.4"/><line x1="126.2" x2="133.4" y1="491.7" y2="491.7" stroke="#3a3a3a" stroke-width="2.4"/><line x1="126.2" x2="133.4" y1="432.6" y2="432.6" stroke="#3a3a3a" stroke-width="2.4"/><line x1="126.2" x2="133.4" y1="373.6" y2="373.6" stroke="#3a3a3a" stroke-width="2.4"/><line x1="134.4" x2="134.4" y1="640.4" y2="899.3" stroke="#1c1c1c" stroke-width="2.8"/><line x1="126.2" x2="133.4" y1="885.6" y2="885.6" stroke="#3a3a3a" stroke-width="2.4"/><line x1="126.2" x2="133.4" y1="826.6" y2="826.6" stroke="#3a3a3a" stroke-width="2.4"/><line x1="126.2" x2="133.4" y1="767.5" y2="767.5" stroke="#3a3a3a" stroke-width="2.4"/><line x1="126.2" x2="133.4" y1="708.5" y2="708.5" stroke="#3a3a3a" stroke-width="2.4"/><line x1="126.2" x2="133.4" y1="649.4" y2="649.4" stroke="#3a3a3a" stroke-width="2.4"/><line x1="133" x2="359.4" y1="897.8" y2="897.8" stroke="#1c1c1c" stroke-width="2.7"/><line x1="144.6" x2="144.6" y1="898.8" y2="906" stroke="#3a3a3a" stroke-width="2.4"/><line x1="247.1" x2="247.1" y1="898.8" y2="906" stroke="#3a3a3a" stroke-width="2.4"/><line x1="349.5" x2="349.5" y1="898.8" y2="906" stroke="#3a3a3a" stroke-width="2.4"/><line x1="376.4" x2="601.4" y1="897.8" y2="897.8" stroke="#1c1c1c" stroke-width="2.7"/><line x1="386.5" x2="386.5" y1="898.8" y2="906" stroke="#3a3a3a" stroke-width="2.4"/><line x1="489" x2="489" y1="898.8" y2="906" stroke="#3a3a3a" stroke-width="2.4"/><line x1="591.4" x2="591.4" y1="898.8" y2="906" stroke="#3a3a3a" stroke-width="2.4"/><line x1="618.3" x2="843.3" y1="897.8" y2="897.8" stroke="#1c1c1c" stroke-width="2.7"/><line x1="628.5" x2="628.5" y1="898.8" y2="906" stroke="#3a3a3a" stroke-width="2.4"/><line x1="731" x2="731" y1="898.8" y2="906" stroke="#3a3a3a" stroke-width="2.4"/><line x1="833.4" x2="833.4" y1="898.8" y2="906" stroke="#3a3a3a" stroke-width="2.4"/><line x1="860.2" x2="1085.2" y1="897.8" y2="897.8" stroke="#1c1c1c" stroke-width="2.7"/><line x1="870.4" x2="870.4" y1="898.8" y2="906" stroke="#3a3a3a" stroke-width="2.4"/><line x1="972.9" x2="972.9" y1="898.8" y2="906" stroke="#3a3a3a" stroke-width="2.4"/><line x1="1075.3" x2="1075.3" y1="898.8" y2="906" stroke="#3a3a3a" stroke-width="2.4"/><line x1="1102.2" x2="1327.2" y1="897.8" y2="897.8" stroke="#1c1c1c" stroke-width="2.7"/><line x1="1112.4" x2="1112.4" y1="898.8" y2="906" stroke="#3a3a3a" stroke-width="2.4"/><line x1="1214.8" x2="1214.8" y1="898.8" y2="906" stroke="#3a3a3a" stroke-width="2.4"/><line x1="1317.3" x2="1317.3" y1="898.8" y2="906" stroke="#3a3a3a" stroke-width="2.4"/><line x1="1344.2" x2="1569.2" y1="897.8" y2="897.8" stroke="#1c1c1c" stroke-width="2.7"/><line x1="1354.3" x2="1354.3" y1="898.8" y2="906" stroke="#3a3a3a" stroke-width="2.4"/><line x1="1456.8" x2="1456.8" y1="898.8" y2="906" stroke="#3a3a3a" stroke-width="2.4"/><line x1="1559.2" x2="1559.2" y1="898.8" y2="906" stroke="#3a3a3a" stroke-width="2.4"/></g>
<g fill="#fff" stroke="#111" stroke-width="3"><rect x="135.9" y="36.4" width="222" height="51.0"/><rect x="377.9" y="36.4" width="222" height="51.0"/><rect x="619.8" y="36.4" width="222" height="51.0"/><rect x="861.7" y="36.4" width="222" height="51.0"/><rect x="1103.7" y="36.4" width="222" height="51.0"/><rect x="1345.7" y="36.4" width="222" height="51.0"/><rect x="1571" y="89.7" width="50.6" height="255.9" clip-path="url(#cs)"/><rect x="1571" y="365.5" width="50.6" height="255.9" clip-path="url(#cs)"/><rect x="1571" y="641.9" width="50.6" height="255.9" clip-path="url(#cs)"/></g>
<g font-size="27.2" fill="#1a1a1a" text-anchor="middle"><text x="246.9" y="73.4">Y1</text><text x="488.9" y="73.4">Y2</text><text x="730.8" y="73.4">Y3</text><text x="972.7" y="73.4">Y4</text><text x="1214.7" y="73.4">Y5</text><text x="1456.7" y="73.4">Y6</text><text transform="translate(1585.3,217.6) rotate(90)">Control</text><text transform="translate(1585.3,493.4) rotate(90)">DAP</text><text transform="translate(1585.3,769.8) rotate(90)">Fermaid O</text></g><g font-size="27.2" fill="#4d4d4d"><g text-anchor="end"><text x="117.7" y="344.9">0.0</text><text x="117.7" y="285.8">0.1</text><text x="117.7" y="226.8">0.2</text><text x="117.7" y="167.7">0.3</text><text x="117.7" y="108.7">0.4</text><text x="117.7" y="620.3">0.0</text><text x="117.7" y="561.2">0.1</text><text x="117.7" y="502.2">0.2</text><text x="117.7" y="443.1">0.3</text><text x="117.7" y="384.1">0.4</text><text x="117.7" y="896.1">0.0</text><text x="117.7" y="837.1">0.1</text><text x="117.7" y="778">0.2</text><text x="117.7" y="719">0.3</text><text x="117.7" y="659.9">0.4</text></g><g text-anchor="middle"><text x="144.6" y="933.2">0</text><text x="247.1" y="933.2">100</text><text x="349.5" y="933.2">200</text><text x="386.5" y="933.2">0</text><text x="489" y="933.2">100</text><text x="591.4" y="933.2">200</text><text x="628.5" y="933.2">0</text><text x="731" y="933.2">100</text><text x="833.4" y="933.2">200</text><text x="870.4" y="933.2">0</text><text x="972.9" y="933.2">100</text><text x="1075.3" y="933.2">200</text><text x="1112.4" y="933.2">0</text><text x="1214.8" y="933.2">100</text><text x="1317.3" y="933.2">200</text><text x="1354.3" y="933.2">0</text><text x="1456.8" y="933.2">100</text><text x="1559.2" y="933.2">200</text></g></g><g font-size="34.5" fill="#0a0a0a" text-anchor="middle"><text x="852" y="973.6">Time [h]</text><text transform="translate(60.2,493.2) rotate(-90)">Loss of gas [ΔCO<tspan font-size="25" dy="6.5" dx="-0.8">2</tspan><tspan dy="-6.5" dx="-0.8"> g h</tspan><tspan font-size="24.2" dy="-16.4">−</tspan><tspan font-size="24.2" dy="-3.6">1</tspan><tspan dy="20">]</tspan></text></g><g fill="none"><line x1="1682.3" x2="1753.4" y1="377.9" y2="377.9" stroke="#069f7a" stroke-width="7"/><line x1="1682.3" x2="1753.4" y1="432.2" y2="432.2" stroke="#e96a12" stroke-width="7"/><line x1="1682.3" x2="1753.4" y1="603.2" y2="603.2" stroke="#111" stroke-width="7.4" stroke-dasharray="30 30"/><line x1="1682.3" x2="1753.4" y1="657.3" y2="657.3" stroke="#000" stroke-opacity=".5" stroke-width="6.4"/></g><g font-size="27.1" fill="#111"><text x="1780.2" y="388.6">Concentrate</text><text x="1780.2" y="442.9">Juice</text><text x="1780.2" y="613.9">18 °C</text><text x="1780.2" y="668">30 °C</text></g>
</svg>
</body></html>
